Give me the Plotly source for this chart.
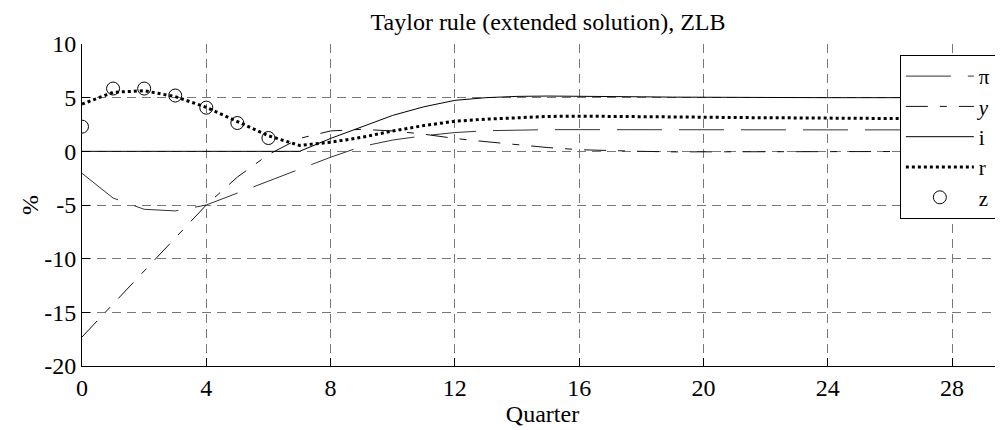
import plotly.graph_objects as go

quarters = list(range(0, 31))
pi_vals = [-2.05, -4.35, -5.4, -5.55, -5.0, -3.9, -2.8, -1.65, -0.55, 0.45,
           1.05, 1.45, 1.75, 1.92, 2.0, 2.02, 2.02, 2.01, 2.0, 2.0,
           2.0, 2.0, 2.0, 2.0, 2.0, 2.0, 2.0, 2.0, 2.0, 2.0, 2.0]
y_vals = [-17.3, -14.2, -11.1, -8.05, -5.0, -2.4, -0.3, 1.2, 1.9, 2.05,
          1.9, 1.6, 1.2, 0.9, 0.6, 0.35, 0.15, 0.05, 0.0, -0.05,
          -0.05, -0.03, 0.0, 0.0, 0.0, 0.0, 0.0, 0.0, 0.0, 0.0, 0.0]
i_vals = [0, 0, 0, 0, 0, 0, 0, 0, 1.2, 2.3,
          3.35, 4.15, 4.75, 5.0, 5.12, 5.15, 5.15, 5.12, 5.08, 5.05,
          5.03, 5.0, 5.0, 5.0, 5.0, 5.0, 5.0, 5.0, 5.0, 5.0, 5.0]
r_vals = [4.4, 5.5, 5.65, 5.1, 4.1, 2.75, 1.45, 0.55, 0.85, 1.3,
          1.9, 2.4, 2.8, 3.0, 3.15, 3.25, 3.28, 3.27, 3.25, 3.22,
          3.18, 3.15, 3.12, 3.1, 3.08, 3.07, 3.06, 3.05, 3.05, 3.05, 3.05]
z_quarters = [0, 1, 2, 3, 4, 5, 6]
z_vals = [2.3, 5.85, 5.85, 5.2, 4.07, 2.64, 1.24]

x_ticks = [0, 4, 8, 12, 16, 20, 24, 28]
y_ticks = [-20, -15, -10, -5, 0, 5, 10]
y_ticktext = ["-20", "-15", "-10", "-5", "0", "5", "10"]

FONT = "Liberation Serif"
FS = 24
W, H = 995, 422  # page body has an 8px margin

fig = go.Figure()
fig.add_trace(go.Scatter(x=quarters, y=pi_vals, mode="lines", name="π",
                         line=dict(color="#333", width=1, dash="45px,17px")))
fig.add_trace(go.Scatter(x=quarters, y=y_vals, mode="lines", name="<i>y</i>",
                         line=dict(color="#111", width=1, dash="22px,12px,7px,12px")))
fig.add_trace(go.Scatter(x=quarters, y=i_vals, mode="lines", name="i",
                         line=dict(color="black", width=1)))
fig.add_trace(go.Scatter(x=quarters, y=r_vals, mode="lines", name="r",
                         line=dict(color="black", width=3, dash="dot")))
fig.add_trace(go.Scatter(x=z_quarters, y=z_vals, mode="markers", name="z",
                         marker=dict(symbol="circle-open", size=13, color="black",
                                     line=dict(width=1, color="black"))))

axis_common = dict(
    showgrid=True, gridcolor="#777", griddash="9px,6px", gridwidth=1,
    showline=True, linecolor="black", linewidth=1,
    ticks="inside", ticklen=8, tickcolor="black",
    zeroline=False, mirror=False, automargin=True,
    tickfont=dict(family=FONT, size=FS, color="black"),
)

fig.update_layout(
    width=W, height=H,
    margin=dict(l=74, r=0, t=36, b=64),
    paper_bgcolor="white", plot_bgcolor="white",
    font=dict(family=FONT, size=FS, color="black"),
    title=dict(text="Taylor rule (extended solution), ZLB",
               font=dict(family=FONT, size=FS, color="black"),
               x=0.506, xref="paper", xanchor="center",
               y=1 - 14 / H, yref="container", yanchor="middle"),
    xaxis=dict(range=[0, 29.64], tickvals=x_ticks,
               title=dict(text="Quarter", font=dict(family=FONT, size=FS), standoff=5),
               **axis_common),
    yaxis=dict(range=[-20, 10], tickvals=y_ticks, ticktext=y_ticktext,
               **axis_common),
    legend=dict(x=0.888, y=0.966, xanchor="left", yanchor="top",
                bgcolor="white", bordercolor="black", borderwidth=1,
                font=dict(family=FONT, size=21, color="black"),
                itemwidth=68, tracegroupgap=0),
    showlegend=True,
)

fig.add_annotation(text="%", textangle=-90, showarrow=False,
                   xref="paper", yref="paper", x=0, y=0.5,
                   xanchor="center", yanchor="middle", xshift=-52,
                   font=dict(family=FONT, size=FS, color="black"))

fig.write_html("out.html")
